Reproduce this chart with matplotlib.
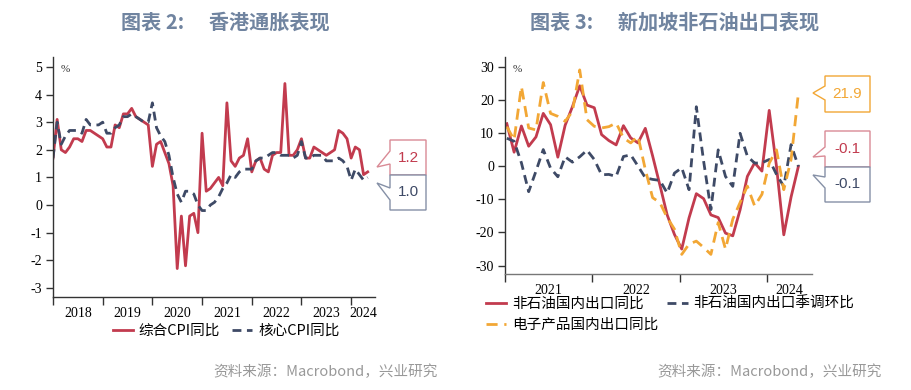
import numpy as np
import matplotlib
matplotlib.use("Agg")
import matplotlib.pyplot as plt
from matplotlib.patches import Polygon

plt.rcParams['font.family'] = ['Liberation Serif', 'Noto Sans CJK SC']
plt.rcParams['axes.unicode_minus'] = False

# === 图表2 数据：香港通胀（2018-01 ~ 2024-05，月度，%） ===
cpi_total = [
    1.7, 3.1, 2.0, 1.9, 2.1, 2.4, 2.4, 2.3, 2.7, 2.7, 2.6, 2.5,
    2.4, 2.1, 2.1, 2.9, 2.8, 3.3, 3.3, 3.5, 3.2, 3.1, 3.0, 2.9,
    1.4, 2.2, 2.3, 1.9, 1.5, 0.7, -2.3, -0.4, -2.2, -0.4, -0.3, -1.0,
    2.6, 0.5, 0.6, 0.8, 1.0, 0.7, 3.7, 1.6, 1.4, 1.7, 1.8, 2.4,
    1.2, 1.6, 1.7, 1.3, 1.2, 1.8, 1.9, 1.9, 4.4, 1.8, 1.8, 2.0,
    2.4, 1.7, 1.7, 2.1, 2.0, 1.9, 1.8, 1.9, 2.0, 2.7, 2.6, 2.4,
    1.7, 2.1, 2.0, 1.1, 1.2,
]
cpi_core = [
    1.7, 3.0, 2.2, 2.5, 2.7, 2.7, 2.7, 2.6, 3.1, 2.9, 2.9, 2.9,
    3.0, 2.6, 2.6, 2.8, 2.9, 3.2, 3.2, 3.3, 3.2, 3.1, 3.0, 3.0,
    3.7, 2.8, 2.5, 2.3, 1.8, 1.0, 0.4, 0.1, 0.5, 0.5, 0.4, 0.0,
    -0.2, -0.2, 0.0, 0.1, 0.3, 0.6, 0.8, 1.1, 1.0, 1.2, 1.3, 1.3,
    1.3, 1.6, 1.7, 1.7, 1.8, 1.9, 1.9, 1.8, 1.8, 1.8, 1.7, 1.8,
    2.3, 1.7, 1.7, 1.8, 1.8, 1.8, 1.6, 1.6, 1.6, 1.7, 1.6, 1.4,
    0.9, 1.3, 1.1, 0.9, 1.0,
]
hk_years = [2018, 2019, 2020, 2021, 2022, 2023, 2024]
hk_labels = ['综合CPI同比', '核心CPI同比']

# === 图表3 数据：新加坡非石油国内出口（2021-01 ~ 2024-05，月度，%） ===
nodx_yoy = [
    12.8, 4.2, 12.1, 6.0, 8.8, 15.9, 12.5, 2.7, 12.3, 17.9, 24.2, 18.4,
    17.6, 9.5, 7.7, 6.4, 12.2, 8.5, 7.0, 11.4, 3.1, -5.7, -14.7, -20.6,
    -25.0, -15.6, -8.3, -9.8, -14.7, -15.5, -20.2, -21.0, -13.2, -3.1, 1.0, -1.5,
    16.8, -0.1, -20.7, -9.3, -0.1,
]
nodx_sa_mom = [
    8.4, 7.5, 1.0, -7.7, -1.5, 5.0, -0.6, -3.2, 2.8, 1.2, 2.8, 4.8,
    2.0, -2.6, -2.5, -3.1, 2.9, 3.4, 0.0, -3.5, -4.0, -4.3, -8.1, -2.1,
    -0.5, -7.1, 17.9, 1.5, -13.1, 4.9, -3.1, -6.1, 9.9, 3.0, 0.9, 1.0,
    2.0, -2.5, -6.1, 6.5, -0.1,
]
elec_yoy = [
    11.9, 7.9, 24.0, 11.5, 10.9, 25.2, 15.9, 15.0, 13.5, 16.5, 29.0, 14.0,
    12.0, 11.5, 11.9, 13.0, 8.5, 7.0, 9.0, -1.0, -9.5, -11.0, -15.5, -19.0,
    -26.6, -23.5, -22.6, -24.5, -26.6, -17.0, -25.0, -16.0, -11.0, -6.0, -12.0, -8.5,
    0.9, 4.9, -7.1, 2.0, 21.9,
]
sg_years = [2021, 2022, 2023, 2024]
sg_labels = ['非石油国内出口同比', '非石油国内出口季调环比', '电子产品国内出口同比']

RED = '#C23B4E'
NAVY = '#3E4A66'
ORANGE = '#F2A735'
TITLE_C = '#7084A0'
CJK = ['Noto Sans CJK SC', 'DejaVu Sans']

W, H = 912, 390
fig = plt.figure(figsize=(W / 100, H / 100), dpi=100)


def px(x, y):
    return x / W, 1 - y / H


def style_axis(ax, years, x_end):
    for s in ['top', 'right']:
        ax.spines[s].set_visible(False)
    for s in ['left', 'bottom']:
        ax.spines[s].set_color('#333333')
        ax.spines[s].set_linewidth(1.0)
    ax.set_xlim(years[0], x_end)
    ax.set_xticks(years)
    ax.set_xticklabels([])
    centers = [(y + min(y + 1, x_end)) / 2 for y in years]
    ax.set_xticks(centers, minor=True)
    ax.set_xticklabels([str(y) for y in years], minor=True)
    ax.tick_params(axis='x', which='major', direction='out', length=6, width=1, color='#333333')
    ax.tick_params(axis='x', which='minor', length=0, pad=7, labelsize=10)
    ax.tick_params(axis='y', direction='out', length=5, width=1, color='#333333', labelsize=10, pad=3)


def callout(x0, x1, y0, y1, base, tip, color, edge, text):
    pts = [(x0, y0), (x1, y0), (x1, y1), (x0, y1), (x0, base[1]), tip, (x0, base[0])]
    poly = Polygon([px(*p) for p in pts], closed=True, transform=fig.transFigure,
                   facecolor='white', edgecolor=edge, linewidth=1.0)
    fig.add_artist(poly)
    cx, cy = px((x0 + x1) / 2, (y0 + y1) / 2)
    fig.text(cx, cy, text, ha='center', va='center', color=color,
             fontsize=11, family=['Liberation Sans'])


# === 左图 ===
ax1 = fig.add_axes([53 / W, 1 - 297 / H, (375 - 53) / W, (297 - 57) / H])
t1 = 2018 + np.arange(len(cpi_total)) / 12
ax1.plot(t1, cpi_total, color=RED, lw=2.0, label=hk_labels[0])
ax1.plot(t1, cpi_core, color=NAVY, lw=2.0, dashes=(3.2, 2.0), label=hk_labels[1])
style_axis(ax1, hk_years, 2024.48)
ax1.set_ylim(-3.33, 5.36)
ax1.set_yticks(range(-3, 6))
ax1.text(0.025, 0.965, '%', transform=ax1.transAxes, fontsize=8, va='top', color='#333333')

callout(390, 426, 140, 175, (151, 164), (377, 167), RED, '#D98A95', f'{cpi_total[-1]:.1f}')
callout(390, 426, 175, 210, (188, 200), (377, 183), NAVY, '#8590A6', f'{cpi_core[-1]:.1f}')

# === 右图 ===
ax2 = fig.add_axes([505 / W, 1 - 274.3 / H, (812 - 505) / W, (274.3 - 57.3) / H])
t2 = 2021 + (np.arange(len(nodx_yoy)) + 0.25) / 12
l_red, = ax2.plot(t2, nodx_yoy, color=RED, lw=2.0, label=sg_labels[0])
l_navy, = ax2.plot(t2, nodx_sa_mom, color=NAVY, lw=2.0, dashes=(3.2, 2.0), label=sg_labels[1])
l_orange, = ax2.plot(t2, elec_yoy, color=ORANGE, lw=2.0, dashes=(4.0, 2.4), label=sg_labels[2])
style_axis(ax2, sg_years, 2024.51)
ax2.spines['bottom'].set_color('#777777')
ax2.set_ylim(-32.6, 32.8)
ax2.set_yticks(range(-30, 31, 10))
ax2.text(0.025, 0.965, '%', transform=ax2.transAxes, fontsize=8, va='top', color='#333333')

callout(825, 870, 76, 112, (86, 100), (813, 93), ORANGE, ORANGE, f'{elec_yoy[-1]:.1f}')
callout(825, 870, 131, 167, (147, 156), (813, 157), RED, '#D98A95', f'{nodx_yoy[-1]:.1f}')
callout(825, 870, 167, 202, (177, 188), (813, 175), NAVY, '#8590A6', f'{nodx_sa_mom[-1]:.1f}')

# === 标题、图例、来源 ===
fig.text(*px(225, 22), '图表 2:\u2003 香港通胀表现', ha='center', va='center',
         fontsize=14.5, fontweight='bold', color=TITLE_C, family=CJK)
fig.text(*px(675, 22), '图表 3:\u2003 新加坡非石油出口表现', ha='center', va='center',
         fontsize=14.5, fontweight='bold', color=TITLE_C, family=CJK)

fig.legend(handles=ax1.get_lines(), loc='center', bbox_to_anchor=px(226, 331),
           ncol=2, frameon=False, prop={'family': CJK, 'size': 10.5},
           handlelength=1.4, handletextpad=0.4, columnspacing=0.8,
           borderpad=0, borderaxespad=0)
# 按行排列：第一行两项，第二行一项
fig.legend(handles=[l_red, l_orange, l_navy], loc='upper left', bbox_to_anchor=px(486, 297),
           ncol=2, frameon=False, prop={'family': CJK, 'size': 10.5},
           handlelength=1.4, handletextpad=0.4, columnspacing=0.6,
           labelspacing=0.45, borderpad=0, borderaxespad=0)

fig.text(*px(438, 372), '资料来源：Macrobond，兴业研究', ha='right', va='center',
         fontsize=10.5, color='#999999', family=CJK)
fig.text(*px(882, 372), '资料来源：Macrobond，兴业研究', ha='right', va='center',
         fontsize=10.5, color='#999999', family=CJK)

fig.savefig('out.png', dpi=100)
